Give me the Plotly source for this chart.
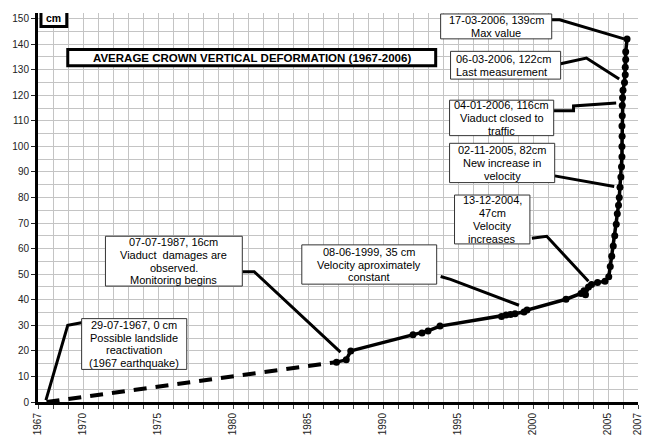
import plotly.graph_objects as go

# ---------------- data ----------------
dash_years = [1967.57, 1986.9]
dash_cm = [0.0, 15.6]

years = [1986.9, 1987.55, 1987.85, 1992.0, 1992.6, 1993.0, 1993.8, 1997.9, 1998.2, 1998.5,
         1998.8, 1999.4, 1999.6, 2002.2, 2003.2, 2003.4, 2003.5, 2003.7, 2003.9, 2004.3,
         2004.8, 2005.05, 2005.15, 2005.25, 2005.35, 2005.45, 2005.55, 2005.62, 2005.7,
         2005.75, 2005.8, 2005.86, 2005.9, 2005.93, 2005.93, 2005.94, 2005.93, 2005.95,
         2005.95, 2005.97, 2006.0, 2006.1, 2006.15, 2006.15, 2006.18, 2006.18, 2006.27]
cm_vals = [15.6, 16.5, 20.0, 26.3, 27.0, 27.8, 29.7, 33.5, 34.0, 34.2,
           34.5, 35.2, 36.0, 40.2, 42.5, 43.5, 42.0, 45.0, 46.0, 46.8,
           47.2, 49.0, 53.0, 57.0, 61.0, 65.0, 69.5, 73.7, 77.0,
           80.0, 84.0, 88.0, 92.0, 96.0, 100.0, 104.0, 108.0, 112.0,
           116.0, 119.0, 122.0, 125.0, 128.0, 131.0, 134.0, 137.0, 142.0]

x_tick_years = list(range(1967, 2008))
x_labelled = [1967, 1970, 1975, 1980, 1985, 1990, 1995, 2000, 2005, 2007]
x_tick_text = [str(y) if y in x_labelled else "" for y in x_tick_years]
y_tick_vals = list(range(0, 151, 10))

notes = [
    ["29-07-1967, 0 cm", "Possible landslide", "reactivation", "(1967 earthquake)"],
    ["07-07-1987, 16cm", "Viaduct  damages are", "observed.", "Monitoring begins"],
    ["08-06-1999, 35 cm", "Velocity aproximately", "constant"],
    ["13-12-2004,", "47cm", "Velocity", "increases"],
    ["02-11-2005, 82cm", "New increase in", "velocity"],
    ["04-01-2006, 116cm", "Viaduct closed to", "traffic"],
    ["06-03-2006, 122cm", "Last measurement"],
    ["17-03-2006, 139cm", "Max value"],
]
title_text = "AVERAGE CROWN VERTICAL DEFORMATION (1967-2006)"
unit_text = "cm"

# ---------------- layout helpers (pixel placement of boxes) ----------------
W, H = 655, 447
ML, MR, MT, MB = 37, 13, 13, 28
X0, X1 = 1967, 2007
Y0, Y1 = 0, 152.2
PW, PH = W - ML - MR, H - MT - MB


def px_x(px):
    return X0 + (px - ML) * (X1 - X0) / PW


def px_y(py):
    return Y0 + (H - MB - py) * (Y1 - Y0) / PH


# box rects (x0, y0, x1, y1) in pixels, alignment, leader paths in pixels
boxes = [
    ((81, 332, 187, 385), "center", [(82, 336), (67, 339), (45, 417)]),
    ((105, 246, 243, 298), "center", [(243, 283), (255, 283), (342, 367)]),
    ((303, 255, 439, 296), "center", [(443, 288), (453, 291), (522, 318)]),
    ((457, 203, 533, 254), "center", [(535, 248), (550, 246), (592, 293)]),
    ((452, 149, 558, 190), "center", [(558, 183), (618, 194)]),
    ((452, 104, 557, 141), "center", [(557, 115), (577, 115), (577, 110), (620, 107)]),
    ((453, 53, 564, 82), "left", [(564, 66), (590, 60), (623, 82)]),
    ((443, 14, 555, 40), "center", [(555, 20), (563, 20), (628, 40)]),
]

FONT = "Arial, Liberation Sans, sans-serif"
fig = go.Figure()

# leaders
for rect, al, path in boxes:
    fig.add_trace(go.Scatter(x=[px_x(p[0]) for p in path], y=[px_y(p[1]) for p in path],
                             mode="lines", line=dict(color="black", width=3),
                             hoverinfo="skip", showlegend=False, cliponaxis=False))

fig.add_trace(go.Scatter(x=dash_years, y=dash_cm, mode="lines",
                         line=dict(color="black", width=4, dash="13px,9px"),
                         showlegend=False, cliponaxis=False))
fig.add_trace(go.Scatter(x=years, y=cm_vals, mode="lines+markers",
                         line=dict(color="black", width=3.5),
                         marker=dict(color="black", size=7),
                         showlegend=False, cliponaxis=False))

shapes = []
annotations = []
LH = 13.3
for (rect, al, path), lines in zip(boxes, notes):
    x0, y0, x1, y1 = rect
    shapes.append(dict(type="rect", xref="x", yref="y", layer="above",
                       x0=px_x(x0), x1=px_x(x1), y0=px_y(y0), y1=px_y(y1),
                       line=dict(color="#333333", width=1), fillcolor="white"))
    cy = (y0 + y1) / 2
    n = len(lines)
    for i, t in enumerate(lines):
        ly = cy + (i - (n - 1) / 2) * LH
        if al == "left":
            annotations.append(dict(x=px_x(x0 + 3), y=px_y(ly), xref="x", yref="y", text=t,
                                    showarrow=False, xanchor="left", yanchor="middle",
                                    font=dict(family=FONT, size=11, color="black")))
        else:
            annotations.append(dict(x=px_x((x0 + x1) / 2), y=px_y(ly), xref="x", yref="y", text=t,
                                    showarrow=False, xanchor="center", yanchor="middle",
                                    font=dict(family=FONT, size=11, color="black")))

# title box and unit box
for (x0, y0, x1, y1), t, fs in [((67, 51, 438, 68), title_text, 11.5), ((40, 10, 66, 27), unit_text, 10.5)]:
    shapes.append(dict(type="rect", xref="x", yref="y", layer="above",
                       x0=px_x(x0), x1=px_x(x1), y0=px_y(y0), y1=px_y(y1),
                       line=dict(color="black", width=3), fillcolor="white"))
    annotations.append(dict(x=px_x((x0 + x1) / 2), y=px_y((y0 + y1) / 2), xref="x", yref="y",
                            text="<b>" + t + "</b>", showarrow=False, xanchor="center",
                            yanchor="middle", font=dict(family=FONT, size=fs, color="black")))

fig.update_layout(
    width=W, height=H, margin=dict(l=ML, r=MR, t=MT, b=MB),
    paper_bgcolor="white", plot_bgcolor="white",
    shapes=shapes, annotations=annotations, showlegend=False,
    xaxis=dict(range=[X0, X1], tickvals=x_tick_years, ticktext=x_tick_text, tickangle=-90,
               ticks="outside", ticklen=4, tickcolor="#444", tickwidth=1,
               showgrid=True, gridcolor="#c4c4c4", gridwidth=1,
               showline=True, linecolor="black", linewidth=3, zeroline=False,
               tickfont=dict(family=FONT, size=10, color="#222")),
    yaxis=dict(range=[Y0, Y1], tickvals=y_tick_vals, ticks="outside", ticklen=4,
               tickcolor="#222", tickwidth=1,
               showgrid=True, gridcolor="#c4c4c4", gridwidth=1,
               minor=dict(dtick=5, showgrid=True, gridcolor="#c4c4c4", gridwidth=1),
               showline=True, linecolor="black", linewidth=3, zeroline=False,
               tickfont=dict(family=FONT, size=10, color="#222")),
)

fig.write_html("out.html")
